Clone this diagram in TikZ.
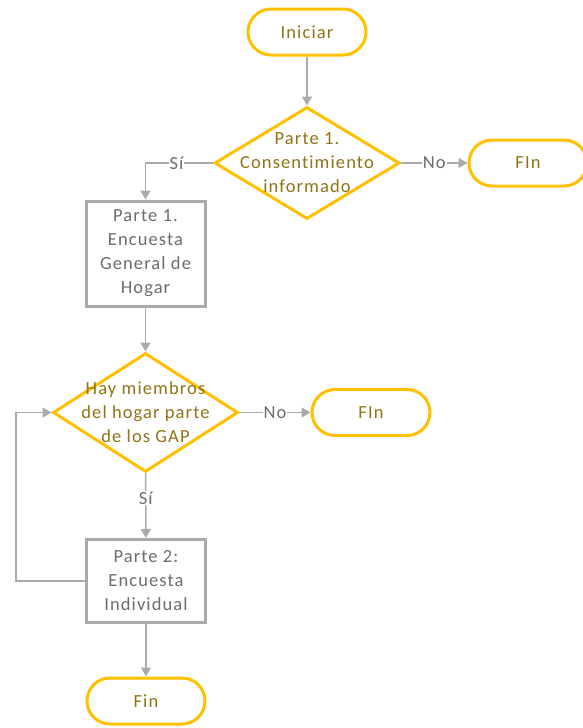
\documentclass[tikz,border=0pt]{standalone}
\usepackage{fontspec}
\setmainfont{Carlito}[LetterSpace=6,Ligatures={NoCommon}]
\usetikzlibrary{shapes.geometric,arrows.meta}
\definecolor{gold}{RGB}{255,192,0}
\definecolor{goldtext}{RGB}{145,114,20}
\definecolor{lgray}{RGB}{170,170,170}
\definecolor{tgray}{RGB}{108,108,108}
\begin{document}
\begin{tikzpicture}[x=1pt,y=-1pt,
  txt/.style={font=\fontsize{18.5}{24}\selectfont,align=center},
  term/.style={txt,draw=gold,line width=3pt,rounded corners=23pt,minimum width=118pt,minimum height=46pt,text=goldtext,inner sep=0pt},
  dia/.style={diamond,draw=gold,line width=3pt,inner sep=0pt},
  dtext/.style={txt,text=goldtext},
  procbox/.style={txt,draw=lgray,line width=3pt,minimum width=119pt,text=tgray,inner sep=0pt},
  conn/.style={draw=lgray,line width=1.5pt,-{Triangle[length=9pt,width=10pt]}},
  lbl/.style={txt,fill=white,text=tgray,inner sep=1pt}
]
\useasboundingbox (0,0) rectangle (582,728);
\node[term] (ini) at (307,32) {Iniciar};
\node[dia,minimum width=185pt,minimum height=112pt] (d1) at (307,163) {};
\node[dtext] (d1t) at (307,163) {Parte 1.\\Consentimiento\\informado};
\node[term] (f1) at (528,163) {FIn};
\node[procbox,minimum height=105pt] (b1) at (145.5,253.5) {Parte 1.\\Encuesta\\General de\\Hogar};
\node[dia,minimum width=185pt,minimum height=119pt] (d2) at (145.5,412.5) {};
\node[dtext] (d2t) at (145.5,412.5) {Hay miembros\\del hogar parte\\de los GAP};
\node[term] (f2) at (371,412.5) {FIn};
\node[procbox,minimum height=83pt] (b2) at (146,581) {Parte 2:\\Encuesta\\Individual};
\node[term] (f3) at (146,701) {Fin};

\draw[conn] (ini) -- (d1);
\draw[conn] (d1.west) -| node[lbl,pos=0.27]{Sí} (b1.north);
\draw[conn] (d1.east) -- node[lbl]{No} (f1);
\draw[conn] (b1) -- (d2);
\draw[conn] (d2.east) -- node[lbl]{No} (f2);
\draw[conn] (d2) -- node[lbl,pos=0.38]{Sí} (b2);
\draw[conn] (b2) -- (f3);
\draw[conn] (b2.west) -- ++(-69,0) |- (d2.west);
\end{tikzpicture}
\end{document}
